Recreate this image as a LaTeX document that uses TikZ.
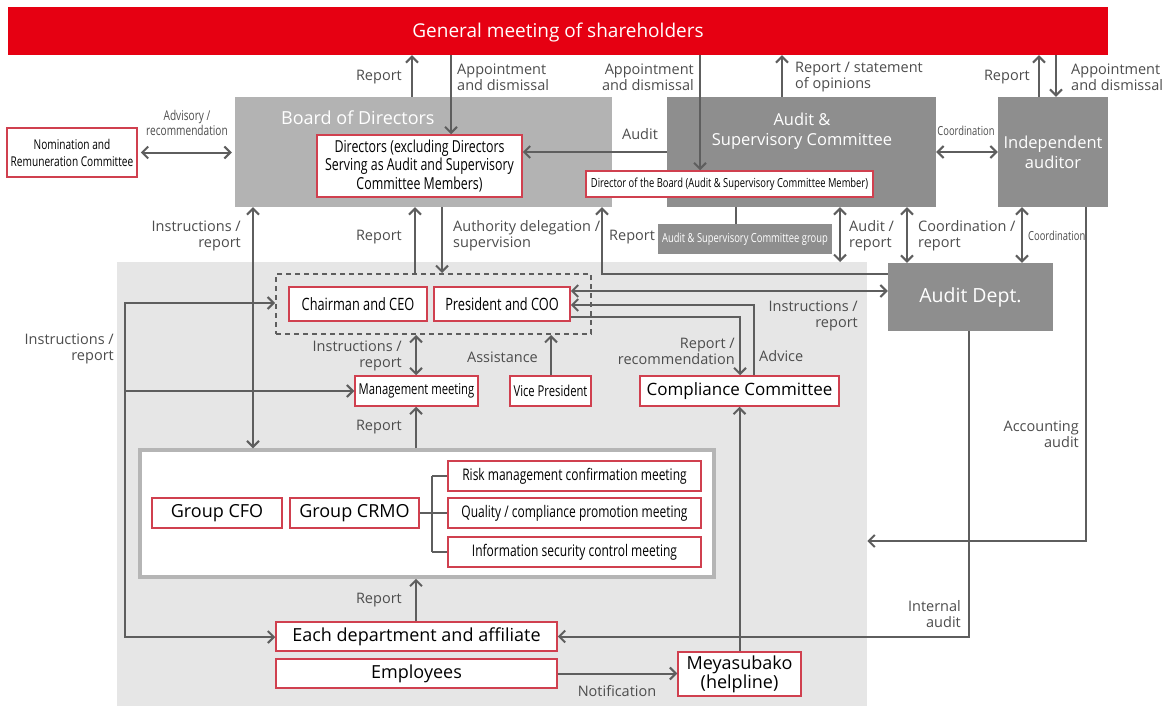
\documentclass[tikz,border=0pt]{standalone}
\usepackage{fontspec}
\setmainfont{Open Sans}
\newfontfamily\narrowfont[FakeStretch=0.75]{Open Sans}
\usetikzlibrary{arrows.meta}
\definecolor{gmred}{HTML}{E60012}
\definecolor{boxred}{HTML}{D0404F}
\definecolor{lgray}{HTML}{B3B3B3}
\definecolor{dgray}{HTML}{8E8E8E}
\definecolor{linec}{HTML}{5E5E5E}
\definecolor{regc}{HTML}{E6E6E6}
\definecolor{ingray}{HTML}{B5B5B5}
\definecolor{labc}{HTML}{4D4D4D}
\newcommand\fsz[2]{\fontsize{#1}{#2}\selectfont}
\tikzset{
 ln/.style={draw=linec,line width=2pt},
 arr/.style={ln,-{Straight Barb[length=6pt,width=12pt]}},
 darr/.style={ln,{Straight Barb[length=6pt,width=12pt]}-{Straight Barb[length=6pt,width=12pt]}},
 brk/.style={draw=linec,line width=1.6pt},
 rbox/.style={draw=boxred,line width=1.5pt,fill=white,inner sep=0pt,align=center,text=black},
 gbox/.style={fill=dgray,inner sep=0pt,align=center},
 lab/.style={text=labc,font=\fsz{14.5}{16},inner sep=0pt},
 labr/.style={lab,align=right,anchor=east},
 labl/.style={lab,align=left,anchor=west},
 nlab/.style={text=labc,inner sep=0pt,align=center},
}
\begin{document}
\begin{tikzpicture}[x=1pt,y=-1pt]
\fill[white] (0,0) rectangle (1166,706);
\useasboundingbox (0,0) rectangle (1166,706);

% background region
\node[fill=regc,inner sep=0pt,minimum width=750pt,minimum height=444pt,anchor=north west] (region) at (117,262) {};

% top level
\node[fill=gmred,minimum width=1100pt,minimum height=48pt,inner sep=0pt,text=white,font=\fsz{19}{22},text height=14pt,text depth=0pt] (gm) at (558,31) {General meeting of shareholders};

\node[fill=lgray,minimum width=377pt,minimum height=110pt,inner sep=0pt] (board) at (423.5,152) {};
\node[text=white,font=\fsz{18}{20},anchor=west,inner sep=0pt] (boardt) at (281,118) {Board of Directors};
\node[rbox,minimum width=205pt,minimum height=62pt,font=\narrowfont\fsz{16.5}{18.5}] (dirs) at (419.5,166) {Directors (excluding Directors\\Serving as Audit and Supervisory\\Committee Members)};

\node[gbox,minimum width=269pt,minimum height=110pt] (asc) at (801.5,152) {};
\node[text=white,font=\fsz{16.5}{20},align=center,inner sep=0pt] (asct) at (802,131) {Audit \&\\Supervisory Committee};
\node[rbox,minimum width=287pt,minimum height=26pt,font=\narrowfont\fsz{12.5}{14}] (dob) at (729.5,184) {Director of the Board (Audit \& Supervisory Committee Member)};

\node[gbox,minimum width=110pt,minimum height=110pt,text=white,font=\fsz{16.5}{20}] (ia) at (1053,152) {Independent\\auditor};

\node[rbox,minimum width=130pt,minimum height=49pt,font=\narrowfont\fsz{13.5}{17}] (nrc) at (72,152.5) {Nomination and\\Remuneration Committee};

\node[gbox,minimum width=174pt,minimum height=30pt,text=white,font=\narrowfont\fsz{12.5}{14}] (ascg) at (745,239) {Audit \& Supervisory Committee group};

\node[gbox,minimum width=165pt,minimum height=68pt,text=white,font=\fsz{19.5}{22}] (ad) at (970.5,297) {Audit Dept.};

% executive area
\node[draw=linec,line width=2pt,dash pattern=on 5pt off 4pt,minimum width=315pt,minimum height=60pt,inner sep=0pt] (dash) at (433.5,304) {};
\node[rbox,minimum width=138pt,minimum height=34pt,font=\narrowfont\fsz{17}{19}] (ceo) at (358,304) {Chairman and CEO};
\node[rbox,minimum width=136pt,minimum height=34pt,font=\narrowfont\fsz{17}{19}] (coo) at (502,304) {President and COO};
\node[rbox,minimum width=123pt,minimum height=30pt,font=\narrowfont\fsz{15}{17}] (mm) at (416.5,391) {Management meeting};
\node[rbox,minimum width=81pt,minimum height=30pt,font=\narrowfont\fsz{15}{17}] (vp) at (550.5,391) {Vice President};
\node[rbox,minimum width=199pt,minimum height=30pt,font=\fsz{17}{19}] (cc) at (739.5,391) {Compliance Committee};

\node[draw=ingray,line width=3.5pt,fill=white,minimum width=574pt,minimum height=127pt,inner sep=0pt] (inner) at (427,513.5) {};
\node[rbox,minimum width=130pt,minimum height=30pt,font=\fsz{18}{20}] (cfo) at (217,513) {Group CFO};
\node[rbox,minimum width=129pt,minimum height=30pt,font=\fsz{18}{20}] (crmo) at (354.5,513) {Group CRMO};
\node[rbox,minimum width=253pt,minimum height=30pt,font=\narrowfont\fsz{16}{18}] (risk) at (574.5,476) {Risk management confirmation meeting};
\node[rbox,minimum width=253pt,minimum height=30pt,font=\narrowfont\fsz{16}{18}] (qual) at (574.5,513) {Quality / compliance promotion meeting};
\node[rbox,minimum width=253pt,minimum height=30pt,font=\narrowfont\fsz{16}{18}] (info) at (574.5,552) {Information security control meeting};

\node[rbox,minimum width=281pt,minimum height=29pt,font=\fsz{18}{20}] (dept) at (416.5,636.5) {Each department and affiliate};
\node[rbox,minimum width=281pt,minimum height=29pt,font=\fsz{18}{20}] (emp) at (416.5,673.5) {Employees};
\node[rbox,minimum width=123pt,minimum height=44pt,font=\fsz{18}{19}] (mey) at (739.5,674) {Meyasubako\\(helpline)};

% x / y guide coordinates
\coordinate (x125) at (125,0);
\coordinate (x253) at (253,0);
\coordinate (x412) at (412,0);
\coordinate (x415) at (415,0);
\coordinate (x416) at (416,0);
\coordinate (x442) at (442,0);
\coordinate (x451) at (451,0);
\coordinate (x551) at (551,0);
\coordinate (x602) at (602,0);
\coordinate (x700) at (700,0);
\coordinate (x736) at (736,0);
\coordinate (x740) at (740,0);
\coordinate (x754) at (754,0);
\coordinate (x782) at (782,0);
\coordinate (x840) at (840,0);
\coordinate (x907) at (907,0);
\coordinate (x969) at (969,0);
\coordinate (x1022) at (1022,0);
\coordinate (x1039) at (1039,0);
\coordinate (x1056) at (1056,0);
\coordinate (x1086) at (1086,0);
\coordinate (x432) at (432,0);
\coordinate (y274) at (0,274);
\coordinate (y291) at (0,291);
\coordinate (y305) at (0,305);
\coordinate (y317) at (0,317);
\coordinate (y541) at (0,541);
\coordinate (tl) at (125,303);
\coordinate (tb) at (125,637);

% connectors: top
\draw[arr] (board.north -| x412) -- (gm.south -| x412);
\draw[arr] (gm.south -| x451) -- (dirs.north -| x451);
\draw[arr] (gm.south -| x700) -- (dob.north -| x700);
\draw[arr] (asc.north -| x782) -- (gm.south -| x782);
\draw[arr] (ia.north -| x1039) -- (gm.south -| x1039);
\draw[arr] (gm.south -| x1056) -- (ia.north -| x1056);
\draw[darr,shorten <=3pt,shorten >=3pt] (nrc.east) -- (board.west |- nrc.east);
\draw[arr] (asc.west) -- (dirs.east |- asc.west);
\draw[darr] (asc.east) -- (ia.west);
\draw[ln] (asc.south -| x736) -- (ascg.north -| x736);

% middle
\draw[darr] (board.south -| x253) -- (inner.north -| x253);
\draw[arr] (dash.north -| x415) -- (board.south -| x415);
\draw[arr] (board.south -| x442) -- (dash.north -| x442);
\draw[arr] (ad.west |- y274) -| (board.south -| x602);
\draw[darr] (asc.south -| x840) -- (region.north -| x840);
\draw[darr] (asc.south -| x907) -- (ad.north -| x907);
\draw[darr] (ia.south -| x1022) -- (ad.north -| x1022);
\draw[darr] (coo.east |- y291) -- (ad.west |- y291);
\draw[arr] (cc.north -| x754) |- (coo.east |- y305);
\draw[arr] (coo.east |- y317) -| (cc.north -| x740);

% left tree
\draw[darr] (dash.west |- tl) -- (tl) -- (tb) -- (dept.west |- tb);
\draw[arr] (x125 |- mm.west) -- (mm.west);

\draw[darr] (dash.south -| x416) -- (mm.north -| x416);
\draw[arr] (vp.north -| x551) -- (dash.south -| x551);
\draw[arr] (inner.north -| x416) -- (mm.south -| x416);
\draw[arr] (dept.north -| x416) -- (inner.south -| x416);

% bracket
\draw[brk] (crmo.east) -- (x432 |- crmo.east);
\draw[brk] (x432 |- risk.west) -- (x432 |- info.west);
\draw[brk] (x432 |- risk.west) -- (risk.west);
\draw[brk] (x432 |- qual.west) -- (qual.west);
\draw[brk] (x432 |- info.west) -- (info.west);

% bottom
\draw[arr] (mey.north) -- (cc.south);
\draw[arr] (emp.east) -- (mey.west |- emp.east);
\draw[arr] (ad.south -| x969) |- (dept.east);
\draw[arr] (ia.south -| x1086) |- (region.east |- y541);

% labels
\node[labr] (l1) at (402,77) {Report};
\node[labl] (l2) at (457,77) {Appointment\\and dismissal};
\node[labr] (l3) at (694,77) {Appointment\\and dismissal};
\node[labl] (l4) at (795,77) {Report / statement\\of opinions};
\node[labr] (l5) at (1030,77) {Report};
\node[labl] (l6) at (1071,77) {Appointment\\and dismissal};
\node[nlab,font=\narrowfont\fsz{13.5}{15}] (l7) at (187,123) {Advisory /\\recommendation};
\node[lab] (l8) at (640,134) {Audit};
\node[nlab,font=\narrowfont\fsz{12.5}{14}] (l9) at (966,131) {Coordination};
\node[labr] (l10) at (241,236) {Instructions /\\report};
\node[labr] (l11) at (402,237) {Report};
\node[labl] (l12) at (453,236) {Authority delegation /\\supervision};
\node[labl] (l13) at (609,237) {Report};
\node[labl] (l14) at (849,236) {Audit /\\report};
\node[labl] (l15) at (918,236) {Coordination /\\report};
\node[nlab,font=\narrowfont\fsz{12.5}{14},anchor=west] (l16) at (1028,236) {Coordination};
\node[labr] (l17) at (858,316) {Instructions /\\report};
\node[labr] (l18) at (735,351) {Report /\\recommendation};
\node[labl] (l19) at (759,356) {Advice};
\node[labr] (l20) at (114,349) {Instructions /\\report};
\node[labr] (l21) at (402,356) {Instructions /\\report};
\node[labr] (l22) at (538,357) {Assistance};
\node[labr] (l23) at (402,427) {Report};
\node[labr] (l24) at (402,600) {Report};
\node[labr] (l25) at (1079,434) {Accounting\\audit};
\node[labr] (l26) at (961,614) {Internal\\audit};
\node[lab] (l27) at (617,691) {Notification};
\end{tikzpicture}
\end{document}
